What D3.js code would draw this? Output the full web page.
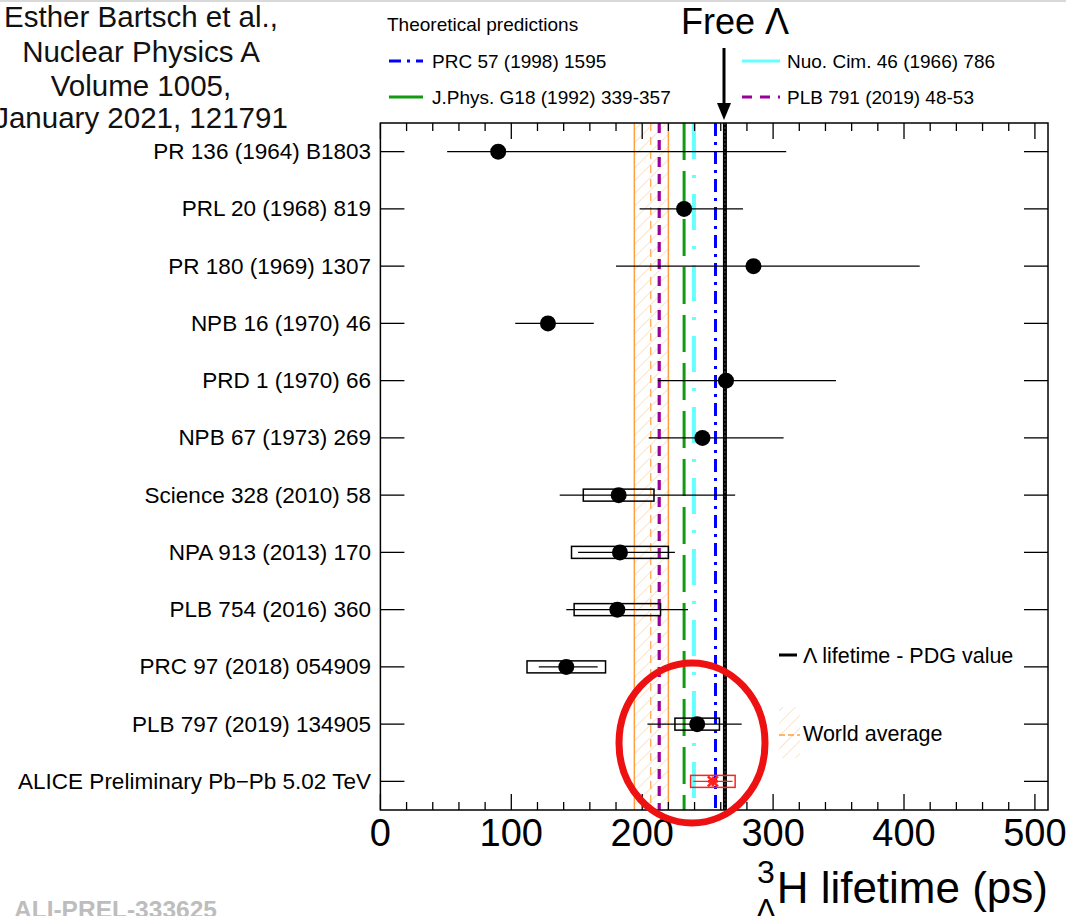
<!DOCTYPE html>
<html><head><meta charset="utf-8">
<script src="https://cdn.jsdelivr.net/npm/d3@7"></script>
<style>
html,body{margin:0;padding:0;background:#fff;overflow:hidden}
svg{display:block}
text{font-family:"Liberation Sans",Arial,Helvetica,sans-serif}
</style></head>
<body>
<svg id="c" width="1066" height="916"></svg>
<script>
// ---------------- data ----------------
const labels = ["PR 136 (1964) B1803","PRL 20 (1968) 819","PR 180 (1969) 1307","NPB 16 (1970) 46","PRD 1 (1970) 66","NPB 67 (1973) 269","Science 328 (2010) 58","NPA 913 (2013) 170","PLB 754 (2016) 360","PRC 97 (2018) 054909","PLB 797 (2019) 134905","ALICE Preliminary Pb\u2212Pb 5.02 TeV"];
const values   = [90, 232, 285, 128, 264, 246, 182, 183, 181, 142, 242, 254];
const statUp   = [220, 45, 127, 35, 84, 62, 89, 42, 54, 24, 34, 15];
const statDown = [39, 34, 105, 25, 52, 41, 45, 32, 39, 21, 38, 15];
const syst     = [null, null, null, null, null, null, 27, 37, 33, 30, 17, 17];
const theoryLabels = ["PRC 57 (1998) 1595","J.Phys. G18 (1992) 339-357","Nuo. Cim. 46 (1966) 786","PLB 791 (2019) 48-53"];
const theoryValues = [256, 232, 239.5, 213];
const pdgValue = 263.2;
const worldAvg = [194, 206.5, 220]; // low, central, high
const xTicks = [0,100,200,300,400,500];
const xDomain = [0,510];

// ---------------- setup ----------------
const svg = d3.select("#c");
const L=380.4, R=1048, T=123, B=810;
const x = d3.scaleLinear().domain(xDomain).range([L,R]);
const y = d3.scaleBand().domain(labels).range([T,B]).padding(0);
const yc = d => y(d)+y.bandwidth()/2;

const defs = svg.append("defs");
const pat = defs.append("pattern").attr("id","hatch").attr("patternUnits","userSpaceOnUse")
  .attr("width",9).attr("height",9).attr("patternTransform","rotate(45)");
pat.append("line").attr("x1",0).attr("y1",0).attr("x2",0).attr("y2",9)
  .attr("stroke","#f8d2a8").attr("stroke-width",1.2);
defs.append("clipPath").attr("id","plotclip").append("rect").attr("x",L).attr("y",T).attr("width",R-L).attr("height",B-T);

const plot = svg.append("g").attr("clip-path","url(#plotclip)");

// world average band
plot.append("rect").attr("x",x(worldAvg[0])).attr("y",T).attr("width",x(worldAvg[2])-x(worldAvg[0])).attr("height",B-T)
  .attr("fill","url(#hatch)");
[worldAvg[0],worldAvg[2]].forEach(v=>{
  plot.append("line").attr("x1",x(v)).attr("x2",x(v)).attr("y1",T).attr("y2",B)
    .attr("stroke","#ffa040").attr("stroke-width",1.5);
});
plot.append("line").attr("x1",x(worldAvg[1])).attr("x2",x(worldAvg[1])).attr("y1",T).attr("y2",B)
  .attr("stroke","#ffb060").attr("stroke-width",1.4).attr("stroke-dasharray","8,6");

// theory lines
const thStyle = [
  {c:"#0000ff", w:3, d:"13,6,3,6"},
  {c:"#129a12", w:3, d:"37,11"},
  {c:"#66ffff", w:4, d:"36,16,3,16"},
  {c:"#990099", w:3.2, d:"10,7"}
];
theoryValues.forEach((v,i)=>{
  plot.append("line").attr("x1",x(v)).attr("x2",x(v)).attr("y1",T).attr("y2",B)
    .attr("stroke",thStyle[i].c).attr("stroke-width",thStyle[i].w).attr("stroke-dasharray",thStyle[i].d);
});
// PDG
plot.append("line").attr("x1",x(pdgValue)).attr("x2",x(pdgValue)).attr("y1",T).attr("y2",B)
  .attr("stroke","#000").attr("stroke-width",4);
plot.append("line").attr("x1",x(pdgValue)).attr("x2",x(pdgValue)).attr("y1",T).attr("y2",B)
  .attr("stroke","#555").attr("stroke-width",1).attr("stroke-dasharray","2,2");

// data
labels.forEach((lab,i)=>{
  const cy = yc(lab);
  const red = i===labels.length-1;
  const col = red ? "#ff2020" : "#000";
  plot.append("line").attr("x1",x(values[i]-statDown[i])).attr("x2",x(values[i]+statUp[i]))
    .attr("y1",cy).attr("y2",cy).attr("stroke",col).attr("stroke-width",1.3);
  if(syst[i]!=null){
    plot.append("rect").attr("x",x(values[i]-syst[i])).attr("width",x(values[i]+syst[i])-x(values[i]-syst[i]))
      .attr("y",cy-6).attr("height",12).attr("fill","none").attr("stroke",col).attr("stroke-width",1.5);
  }
  if(red){
    const px=x(values[i]), s=5;
    plot.append("path").attr("d",`M${px-s},${cy-s}L${px+s},${cy+s}M${px-s},${cy+s}L${px+s},${cy-s}M${px},${cy-s}L${px},${cy+s}M${px-s},${cy}L${px+s},${cy}`)
      .attr("stroke",col).attr("stroke-width",2.6);
  } else {
    plot.append("circle").attr("cx",x(values[i])).attr("cy",cy).attr("r",8).attr("fill","#000");
  }
});

// frame
svg.append("rect").attr("x",L).attr("y",T).attr("width",R-L).attr("height",B-T)
  .attr("fill","none").attr("stroke","#000").attr("stroke-width",1.5);

// x ticks
const minor = d3.range(0,511,20);
minor.forEach(v=>{
  const major = v%100===0;
  const len = major?16:8;
  svg.append("line").attr("x1",x(v)).attr("x2",x(v)).attr("y1",B).attr("y2",B-len).attr("stroke","#000").attr("stroke-width",1.3);
  svg.append("line").attr("x1",x(v)).attr("x2",x(v)).attr("y1",T).attr("y2",T+len).attr("stroke","#000").attr("stroke-width",1.3);
});
svg.append("g").selectAll("text").data(xTicks).join("text")
  .attr("x",d=>x(d)).attr("y",846).attr("text-anchor","middle").attr("font-size",38).text(d=>d);

// y ticks & labels
labels.forEach(lab=>{
  const cy=yc(lab);
  svg.append("line").attr("x1",L).attr("x2",L+24).attr("y1",cy).attr("y2",cy).attr("stroke","#000").attr("stroke-width",1.3);
  svg.append("line").attr("x1",R-24).attr("x2",R).attr("y1",cy).attr("y2",cy).attr("stroke","#000").attr("stroke-width",1.3);
});
svg.append("g").selectAll("text").data(labels).join("text")
  .attr("x",371).attr("y",d=>yc(d)+7.5).attr("text-anchor","end").attr("font-size",22.5).text(d=>d);

// axis title
const at = svg.append("g");
at.append("text").attr("x",757).attr("y",883).attr("font-size",32).text("3");
at.append("text").attr("x",756).attr("y",919).attr("font-size",30).text("\u039B");
at.append("text").attr("x",1048).attr("y",903).attr("text-anchor","end").attr("font-size",44).text("H lifetime (ps)");

// theory legend
svg.append("text").attr("x",387).attr("y",31).attr("font-size",19).text("Theoretical predictions");
const legPos = [[389,61,"PRC 57 (1998) 1595",0],[389,97,"J.Phys. G18 (1992) 339-357",1],[742,61,"Nuo. Cim. 46 (1966) 786",2],[742,97,"PLB 791 (2019) 48-53",3]];
const legDash = ["12,6,3,6",null,null,"10,8"];
legPos.forEach(([lx,ly,t,k])=>{
  const w = lx<500?34:38;
  svg.append("line").attr("x1",lx).attr("x2",lx+w).attr("y1",ly).attr("y2",ly)
    .attr("stroke",thStyle[k].c).attr("stroke-width",3).attr("stroke-dasharray",legDash[k]);
  svg.append("text").attr("x",lx+(lx<500?43:45)).attr("y",ly+7).attr("font-size",19).text(theoryLabels[k]);
});

// lower legend
svg.append("line").attr("x1",779).attr("x2",797).attr("y1",655).attr("y2",655).attr("stroke","#000").attr("stroke-width",3);
svg.append("text").attr("x",803).attr("y",663).attr("font-size",21.5).text("\u039B lifetime - PDG value");
svg.append("rect").attr("x",779).attr("y",707).attr("width",21).attr("height",51).attr("fill","url(#hatch)");
svg.append("line").attr("x1",779).attr("x2",800).attr("y1",735).attr("y2",735).attr("stroke","#ffa040").attr("stroke-width",1.5).attr("stroke-dasharray","6,3");
svg.append("text").attr("x",803).attr("y",741).attr("font-size",21.5).text("World average");

// free lambda
svg.append("text").attr("x",681).attr("y",34).attr("font-family","DejaVu Sans").attr("font-size",36).text("Free \u039B");
svg.append("line").attr("x1",724).attr("x2",724).attr("y1",48).attr("y2",106).attr("stroke","#000").attr("stroke-width",3);
svg.append("path").attr("d","M717,103L731,103L724,120Z").attr("fill","#000");

// citation
const cit = ["Esther Bartsch et al.,","Nuclear Physics A","Volume 1005,","January 2021, 121791"];
const citY = [27,62,96,128];
cit.forEach((t,i)=>svg.append("text").attr("x",141).attr("y",citY[i]).attr("text-anchor","middle")
  .attr("font-family","DejaVu Sans").attr("font-size",29.5).attr("fill","#111").text(t));

// top border line
svg.append("line").attr("x1",0).attr("x2",1066).attr("y1",1).attr("y2",1).attr("stroke","#ccc").attr("stroke-width",1.5);

// ALI-PREL
svg.append("text").attr("x",14).attr("y",918).attr("font-family","Liberation Mono").attr("font-weight","bold")
  .attr("font-size",24.5).attr("fill","#bdbdbd").text("ALI-PREL-333625");

// ellipse
svg.append("ellipse").attr("cx",692).attr("cy",743).attr("rx",73).attr("ry",80)
  .attr("fill","none").attr("stroke","#ee1111").attr("stroke-width",7);
</script>
</body></html>
